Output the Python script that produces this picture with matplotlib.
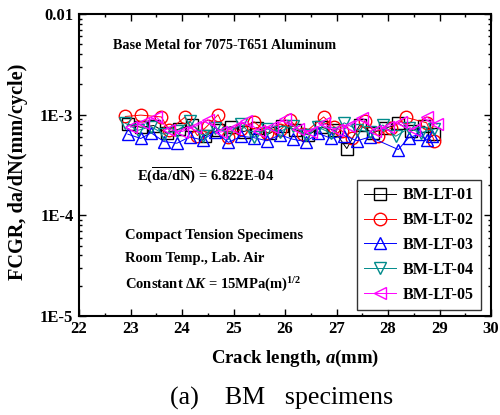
import matplotlib
matplotlib.use("Agg")
import matplotlib.pyplot as plt
from matplotlib.ticker import LogLocator, MultipleLocator, NullFormatter, FixedLocator, FixedFormatter

plt.rcParams["font.family"] = ["Liberation Serif", "DejaVu Serif"]
plt.rcParams["font.weight"] = "bold"
plt.rcParams["mathtext.fontset"] = "custom"
plt.rcParams["mathtext.rm"] = "Liberation Serif:bold"
plt.rcParams["mathtext.it"] = "Liberation Serif:italic:bold"
plt.rcParams["mathtext.bf"] = "Liberation Serif:bold"

# Crack length (mm) per specimen
x_01 = [22.95, 23.2, 23.45, 23.7, 23.95, 24.2, 24.45, 24.7, 24.95, 25.2, 25.45, 25.7, 25.95,
        26.2, 26.45, 26.7, 26.95, 27.2, 27.45, 27.7, 27.95, 28.2, 28.45, 28.7, 28.9]
x_02 = [22.9, 23.2, 23.6, 23.75, 24.05, 24.3, 24.5, 24.7, 24.9, 25.15, 25.4, 25.65, 25.9,
        26.1, 26.35, 26.75, 26.95, 27.1, 27.3, 27.55, 27.8, 28.05, 28.35, 28.75, 28.9]
x_03 = [22.95, 23.2, 23.4, 23.65, 23.9, 24.15, 24.4, 24.65, 24.9, 25.15, 25.4, 25.65, 25.9,
        26.15, 26.4, 26.65, 26.9, 27.15, 27.4, 27.65, 28.2, 28.4, 28.6, 28.75, 28.85]
x_04 = [22.9, 23.15, 23.4, 23.65, 23.9, 24.15, 24.4, 24.65, 24.9, 25.15, 25.4, 25.65, 25.9,
        26.15, 26.4, 26.65, 26.9, 27.15, 27.4, 27.65, 27.9, 28.15, 28.4, 28.65, 28.9]
x_05 = [23.0, 23.25, 23.5, 23.75, 24.0, 24.25, 24.5, 24.75, 25.0, 25.25, 25.5, 25.75, 26.0,
        26.25, 26.5, 26.75, 27.0, 27.25, 27.5, 27.75, 28.0, 28.25, 28.5, 28.75, 28.95]

# FCGR, da/dN (mm/cycle)
y_01 = [8.0e-4, 7.5e-4, 7.8e-4, 6.6e-4, 7.2e-4, 7.9e-4, 6.2e-4, 7.0e-4, 7.6e-4, 6.8e-4, 7.4e-4, 6.5e-4, 7.8e-4,
        7.1e-4, 6.3e-4, 7.5e-4, 7.0e-4, 4.6e-4, 7.9e-4, 6.6e-4, 7.3e-4, 8.2e-4, 6.9e-4, 7.7e-4, 6.4e-4]
y_02 = [9.6e-4, 9.9e-4, 9.5e-4, 7.0e-4, 9.4e-4, 6.2e-4, 7.8e-4, 1.0e-3, 6.0e-4, 7.2e-4, 8.5e-4, 6.6e-4, 7.0e-4,
        8.8e-4, 6.4e-4, 9.5e-4, 7.6e-4, 6.9e-4, 5.8e-4, 8.6e-4, 6.2e-4, 7.3e-4, 9.4e-4, 8.3e-4, 5.5e-4]
y_03 = [6.4e-4, 5.8e-4, 6.6e-4, 5.4e-4, 5.2e-4, 6.0e-4, 5.6e-4, 6.8e-4, 5.3e-4, 6.1e-4, 5.9e-4, 5.5e-4, 6.3e-4,
        5.7e-4, 5.4e-4, 6.5e-4, 5.8e-4, 6.2e-4, 5.5e-4, 6.0e-4, 4.5e-4, 5.9e-4, 6.4e-4, 5.6e-4, 6.1e-4]
y_04 = [8.2e-4, 7.0e-4, 7.6e-4, 6.4e-4, 6.9e-4, 8.6e-4, 6.2e-4, 7.4e-4, 6.6e-4, 8.0e-4, 6.0e-4, 7.2e-4, 6.8e-4,
        7.8e-4, 6.3e-4, 7.5e-4, 6.5e-4, 8.3e-4, 7.1e-4, 6.7e-4, 7.9e-4, 6.1e-4, 7.3e-4, 6.6e-4, 7.2e-4]
y_05 = [7.5e-4, 8.2e-4, 9.5e-4, 7.1e-4, 6.8e-4, 7.6e-4, 8.9e-4, 6.7e-4, 7.4e-4, 8.6e-4, 6.9e-4, 7.5e-4, 9.0e-4,
        7.2e-4, 6.8e-4, 8.2e-4, 7.0e-4, 7.8e-4, 9.3e-4, 6.9e-4, 7.6e-4, 8.4e-4, 7.1e-4, 9.5e-4, 8.0e-4]

labels = ["BM-LT-01", "BM-LT-02", "BM-LT-03", "BM-LT-04", "BM-LT-05"]
colors = ["#000000", "#ff0000", "#0000ff", "#008b8b", "#ff00ff"]
markers = ["s", "o", "^", "v", "<"]

y_ticks = [1e-5, 1e-4, 1e-3, 1e-2]
y_tick_labels = ["1E-5", "1E-4", "1E-3", "0.01"]

fig = plt.figure(figsize=(5.0, 4.15), dpi=100)
ax = fig.add_axes([0.158, 0.239, 0.824, 0.727])

series = [(x_01, y_01), (x_02, y_02), (x_03, y_03), (x_04, y_04), (x_05, y_05)]
for (xs, ys), lab, c, m in zip(series, labels, colors, markers):
    ax.plot(xs, ys, color=c, lw=0.7, marker=m, ms=9, mfc="none",
            mec=c, mew=1.0, label=lab)

ax.set_yscale("log")
ax.set_xlim(22, 30)
ax.set_ylim(1e-5, 1e-2)

ax.xaxis.set_major_locator(MultipleLocator(1))
ax.xaxis.set_minor_locator(MultipleLocator(0.5))
ax.yaxis.set_major_locator(FixedLocator(y_ticks))
ax.yaxis.set_major_formatter(FixedFormatter(y_tick_labels))
ax.yaxis.set_minor_locator(LogLocator(base=10, subs=range(2, 10)))
ax.yaxis.set_minor_formatter(NullFormatter())

ax.tick_params(which="both", direction="in", top=True, right=True, width=1.0)
ax.tick_params(which="major", length=5, labelsize=12, pad=4)
ax.tick_params(which="minor", length=2.5)
for lbl in ax.get_xticklabels() + ax.get_yticklabels():
    lbl.set_fontweight("bold")
for sp in ax.spines.values():
    sp.set_linewidth(1.5)

# axis titles sit slightly off-centre in the original
fig.text(0.59, 0.137, r"Crack length, $\mathit{a}$(mm)", ha="center", va="center",
         fontsize=13.5, fontweight="bold")
fig.text(0.037, 0.586, "FCGR, da/dN(mm/cycle)", rotation=90, ha="center", va="center",
         fontsize=14.6, fontweight="bold")

ax.text(0.083, 0.885, "Base Metal for 7075-T651 Aluminum", transform=ax.transAxes,
        fontsize=10.2, fontweight="bold")
ax.text(0.141, 0.45, r"E($\overline{\mathrm{da/dN}}$) = 6.822E-04", transform=ax.transAxes,
        fontsize=10.5, fontweight="bold")
ax.text(0.112, 0.255, "Compact Tension Specimens", transform=ax.transAxes,
        fontsize=10.5, fontweight="bold")
ax.text(0.112, 0.18, "Room Temp., Lab. Air", transform=ax.transAxes,
        fontsize=10.5, fontweight="bold")
ax.text(0.112, 0.088, "Constant $\\mathit{ΔK}$ = 15MPa(m)$^{1/2}$", transform=ax.transAxes,
        fontsize=10.5, fontweight="bold")

leg = ax.legend(loc="lower right", bbox_to_anchor=(0.976, 0.02), frameon=True,
                fancybox=False, edgecolor="black", prop={"weight": "bold", "size": 11.5},
                handlelength=2.0, handletextpad=0.4, labelspacing=0.55, borderpad=0.45,
                borderaxespad=0)
leg.get_frame().set_linewidth(1.0)

fig.text(0.34, 0.041, "(a)    BM   specimens", ha="left", va="center",
         fontsize=18.7, fontweight="normal")

fig.savefig("out.png", dpi=100)
